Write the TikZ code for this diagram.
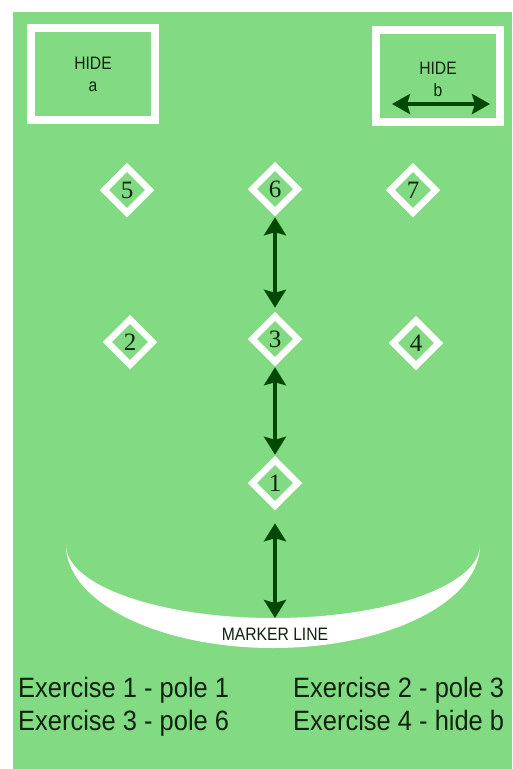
\documentclass[tikz,border=0pt]{standalone}
\usepackage{fontspec}
\setmainfont{Liberation Serif}
\setsansfont{Liberation Sans}
\usetikzlibrary{shapes.geometric,arrows.meta}
\definecolor{field}{RGB}{130,218,130}
\definecolor{arrowgreen}{RGB}{0,72,0}
\definecolor{inktext}{RGB}{15,35,15}
\tikzset{
  pole/.style={shape=diamond, draw=white, line width=6.5pt, inner sep=0pt,
    minimum width=48pt, minimum height=48pt, text=inktext,
    font=\fontsize{25}{25}\selectfont},
  hidebox/.style={shape=rectangle, draw=white, line width=8pt, inner sep=0pt,
    minimum width=124pt, minimum height=92pt},
  hidetext/.style={align=center, text=inktext, inner sep=0pt, xscale=0.87, transform shape,
    font=\sffamily\fontsize{18}{22}\selectfont},
  runarrow/.style={draw=arrowgreen, line width=4pt,
    {Stealth[length=18pt,width=22pt,inset=3pt]}-{Stealth[length=18pt,width=22pt,inset=3pt]}},
  exlabel/.style={anchor=base west, inner sep=0pt, text=inktext, xscale=0.91, transform shape,
    font=\sffamily\fontsize{28}{30}\selectfont},
}
\begin{document}
\begin{tikzpicture}[x=1pt,y=-1pt]
\useasboundingbox (0,0) rectangle (512,769);
\fill[white] (0,0) rectangle (512,769);
\fill[field] (13,12) rectangle (512,769);
% hides
\node[hidebox] (hidea) at (93,74) {};
\node[hidetext] (hidealabel) at (93,74.5) {HIDE\\a};
\node[hidebox] (hideb) at (438,76) {};
\node[hidetext] (hideblabel) at (438,79) {HIDE\\b};
\coordinate (bl) at (392,104);
\coordinate (br) at (490,104);
\draw[runarrow, {Stealth[length=18pt,width=20pt,inset=3pt]}-{Stealth[length=18pt,width=20pt,inset=3pt]}] (bl) -- (br);
% poles
\node[pole] (p5) at (127,190) {5};
\node[pole] (p6) at (275,189) {6};
\node[pole] (p7) at (413,190) {7};
\node[pole] (p2) at (130,342) {2};
\node[pole] (p3) at (275,339) {3};
\node[pole] (p4) at (416,343) {4};
\node[pole] (p1) at (275,483) {1};
% marker line
\fill[white] (66,545) arc[start angle=180, end angle=360, x radius=207pt, y radius=103pt]
  arc[start angle=0, end angle=-180, x radius=207pt, y radius=73pt] -- cycle;
\coordinate (mtop) at (275,618);
\node[inner sep=0pt, text=inktext, xscale=0.87, transform shape,
  font=\sffamily\fontsize{18}{18}\selectfont] (marker) at (275,634) {MARKER LINE};
% arrows
\draw[runarrow, shorten <=1pt, shorten >=4pt] (p6.south) -- (p3.north);
\draw[runarrow, shorten <=1pt, shorten >=1pt] (p3.south) -- (p1.north);
\draw[runarrow, shorten <=13pt] (p1.south) -- (mtop);
% exercises
\node[exlabel] (ex1) at (18,697) {Exercise 1 - pole 1};
\node[exlabel] (ex3) at (18,730) {Exercise 3 - pole 6};
\node[exlabel] (ex2) at (293,697) {Exercise 2 - pole 3};
\node[exlabel] (ex4) at (293,730) {Exercise 4 - hide b};
\end{tikzpicture}
\end{document}
